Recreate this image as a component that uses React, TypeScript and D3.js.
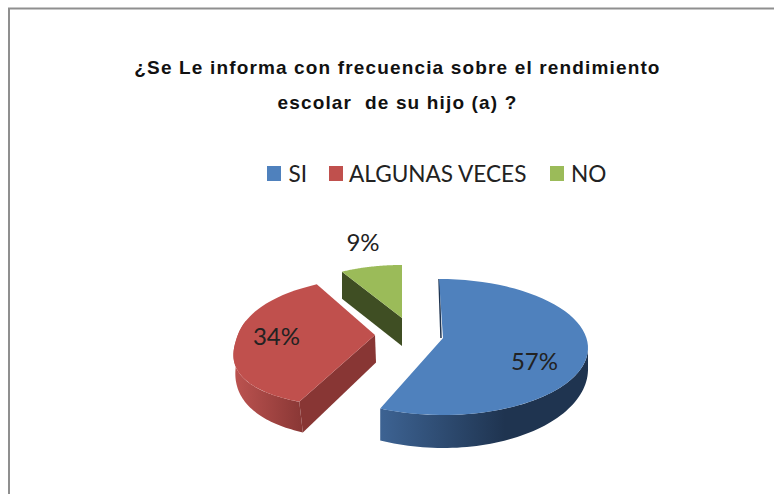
import React from "react";
import * as d3 from "d3";

const titleLines = ["¿Se Le informa con frecuencia sobre el rendimiento", "escolar  de su hijo (a) ?"];
const categories = ["SI", "ALGUNAS VECES", "NO"];
const values = [57, 34, 9];
const colors = ["#4f81bd", "#c0504d", "#9bbb59"];

type Rim = { cx: number; cy: number; rx: number; ry: number; s: number; p: number };
type Geo = {
  top: Rim; bottom: Rim; apex: [number, number]; apexBottom: [number, number];
  wallFrom: number; face: string | null; labelPos: [number, number];
};

const geo: Geo[] = [
  { top: { cx: 441, cy: 347, rx: 147, ry: 68, s: -2, p: 1 }, bottom: { cx: 441, cy: 368, rx: 147, ry: 80, s: -2, p: 1 },
    apex: [443, 338], apexBottom: [441, 338], wallFrom: 90, face: null, labelPos: [534.5, 370] },
  { top: { cx: 392.7, cy: 341.3, rx: 157, ry: 65.8, s: 19, p: 0.85 }, bottom: { cx: 394.7, cy: 358, rx: 157.5, ry: 81, s: 17, p: 0.85 },
    apex: [375, 335], apexBottom: [376, 362.5], wallFrom: 0, face: "#883634", labelPos: [276.5, 345] },
  { top: { cx: 402, cy: 308, rx: 112, ry: 43, s: 0, p: 1 }, bottom: { cx: 402, cy: 335, rx: 112, ry: 43, s: 0, p: 1 },
    apex: [402, 318], apexBottom: [402, 346], wallFrom: 0, face: "#3f4e23", labelPos: [363, 251] },
];

const pow = (v: number, p: number) => Math.sign(v) * Math.pow(Math.abs(v), p);

const rimPoint = (r: Rim, a: number): [number, number] => {
  const sin = pow(Math.sin(a), r.p);
  const cos = pow(Math.cos(a), r.p);
  return [r.cx + r.rx * sin + r.s * cos, r.cy - r.ry * cos];
};

const line = d3.line();
const arcs = d3.pie<number>().sort(null)(values);

const rimPoints = (r: Rim, a0: number, a1: number) =>
  d3.range(0, 61).map((i) => rimPoint(r, a0 + ((a1 - a0) * i) / 60));

export default function App() {
  const legendX = [267, 329, 550];
  const legendTextX = [288.5, 349, 571];
  const order = [2, 1, 0];
  return (
    <svg width={774} height={494} style={{ position: "absolute", left: 0, top: 0, background: "#fff" }}>
      <defs>
        <linearGradient id="wall0" gradientUnits="userSpaceOnUse" x1="380" x2="505" y1="0" y2="0">
          <stop offset="0" stopColor="#3d6393" />
          <stop offset="1" stopColor="#1f3450" />
        </linearGradient>
        <linearGradient id="wall1" gradientUnits="userSpaceOnUse" x1="234" x2="303" y1="0" y2="0">
          <stop offset="0" stopColor="#bc5350" />
          <stop offset="1" stopColor="#893735" />
        </linearGradient>
      </defs>
      <path d="M9 494V8.5H774" fill="none" stroke="#8f8f8f" strokeWidth={2} />

      {titleLines.map((t, i) => (
        <text key={t} x={397.5} y={74 + i * 35} textAnchor="middle" xmlSpace="preserve"
          style={{ whiteSpace: "pre" }} fontFamily="Liberation Sans" fontWeight="bold" fontSize={19}
          letterSpacing={1.15} fill="#111">{t}</text>
      ))}

      {categories.map((c, i) => (
        <g key={c}>
          <rect x={legendX[i]} y={166} width={14} height={15} fill={colors[i]} />
          <text x={legendTextX[i]} y={182} fontFamily="Lato" fontSize={22.6} fill="#222">{c}</text>
        </g>
      ))}

      {order.map((i) => {
        const g = geo[i];
        const { startAngle: s, endAngle: e } = arcs[i];
        const wallA = Math.max(s, (g.wallFrom * Math.PI) / 180);
        const wallEnd = i === 0 ? e : Math.min(e, (285 * Math.PI) / 180);
        const wall = [...rimPoints(g.top, wallA, wallEnd), ...rimPoints(g.bottom, wallA, wallEnd).reverse()];
        const face: [number, number][] = [rimPoint(g.top, s), g.apex, g.apexBottom, rimPoint(g.bottom, s)];
        const top: [number, number][] = [g.apex, ...rimPoints(g.top, s, e)];
        return (
          <g key={i}>
            {i !== 2 && <path d={line(wall) + "Z"} fill={`url(#wall${i})`} />}
            {g.face && <path d={line(face) + "Z"} fill={g.face} />}
            {i === 0 && (
              <path d={line([[g.apexBottom[0], g.apexBottom[1]], rimPoint(g.top, 0)])!} stroke="#1f3450" strokeWidth={1.5} fill="none" />
            )}
            <path d={line(top) + "Z"} fill={colors[i]} />
          </g>
        );
      })}

      {values.map((v, i) => (
        <text key={i} x={geo[i].labelPos[0]} y={geo[i].labelPos[1]} textAnchor="middle" fontFamily="Lato" fontSize={24} fill="#222">
          {v}%
        </text>
      ))}
    </svg>
  );
}
